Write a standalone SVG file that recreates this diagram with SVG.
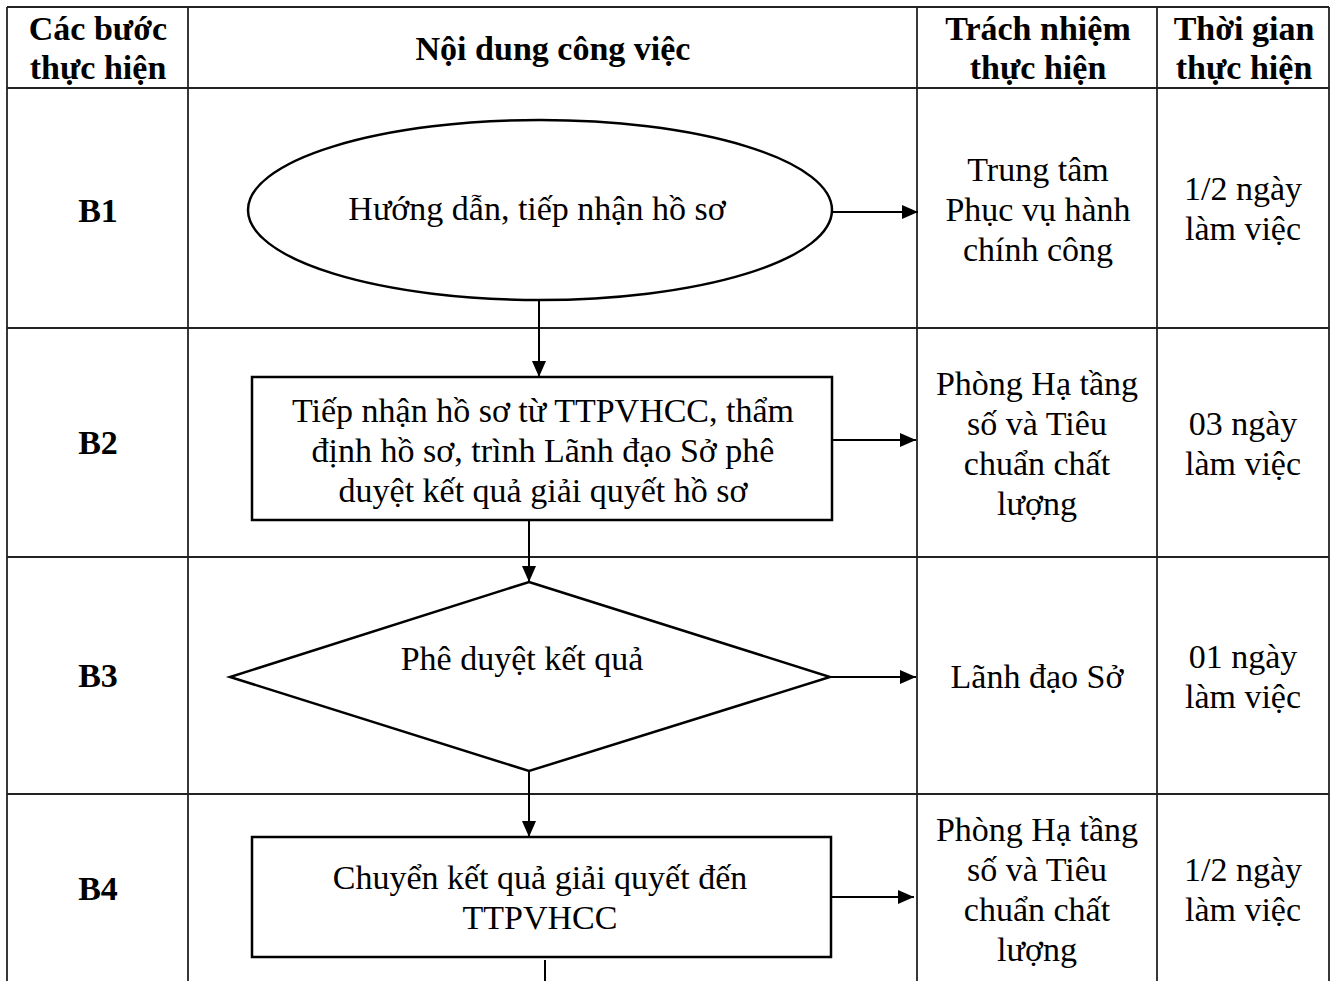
<svg xmlns="http://www.w3.org/2000/svg" width="1336" height="981" viewBox="0 0 1336 981">
  <style>
    .grid { stroke: #222; stroke-width: 1.8; fill: none; }
    .shape { stroke: #000; stroke-width: 2.5; fill: #fff; }
    .flow { stroke: #000; stroke-width: 2; fill: none; }
    text { font-family: "Liberation Serif", "Times New Roman", serif; font-size: 34px; fill: #000; text-anchor: middle; }
    .hd { font-weight: bold; }
  </style>
  <defs>
    <marker id="arrow" viewBox="0 0 16 14" refX="16" refY="7" markerWidth="16" markerHeight="14" markerUnits="userSpaceOnUse" orient="auto">
      <path d="M0,0 L16,7 L0,14 Z" fill="#000"/>
    </marker>
  </defs>
  <rect width="1336" height="981" fill="#fff"/>

  <!-- table grid -->
  <g id="table">
    <line class="grid" x1="7" y1="7" x2="1329" y2="7"/>
    <line class="grid" x1="7" y1="88" x2="1329" y2="88"/>
    <line class="grid" x1="7" y1="328" x2="1329" y2="328"/>
    <line class="grid" x1="7" y1="557" x2="1329" y2="557"/>
    <line class="grid" x1="7" y1="794" x2="1329" y2="794"/>
    <line class="grid" x1="7" y1="7" x2="7" y2="981"/>
    <line class="grid" x1="188" y1="7" x2="188" y2="981"/>
    <line class="grid" x1="917" y1="7" x2="917" y2="981"/>
    <line class="grid" x1="1157" y1="7" x2="1157" y2="981"/>
    <line class="grid" x1="1329" y1="7" x2="1329" y2="981"/>
  </g>

  <!-- header -->
  <g id="header">
    <text class="hd" x="98" y="40">Các bước</text>
    <text class="hd" x="98" y="79">thực hiện</text>
    <text class="hd" x="553" y="60">Nội dung công việc</text>
    <text class="hd" x="1038" y="40">Trách nhiệm</text>
    <text class="hd" x="1038" y="79">thực hiện</text>
    <text class="hd" x="1244" y="40">Thời gian</text>
    <text class="hd" x="1244" y="79">thực hiện</text>
  </g>

  <!-- step labels -->
  <g id="steps">
    <text class="hd" x="98" y="222">B1</text>
    <text class="hd" x="98" y="454">B2</text>
    <text class="hd" x="98" y="687">B3</text>
    <text class="hd" x="98" y="900">B4</text>
  </g>

  <!-- connectors -->
  <g id="connectors">
    <line class="flow" x1="832" y1="212" x2="918" y2="212" marker-end="url(#arrow)"/>
    <line class="flow" x1="539" y1="300" x2="539" y2="377" marker-end="url(#arrow)"/>
    <line class="flow" x1="832" y1="440" x2="916" y2="440" marker-end="url(#arrow)"/>
    <line class="flow" x1="529" y1="520" x2="529" y2="582" marker-end="url(#arrow)"/>
    <line class="flow" x1="830" y1="677" x2="916" y2="677" marker-end="url(#arrow)"/>
    <line class="flow" x1="529" y1="771" x2="529" y2="837" marker-end="url(#arrow)"/>
    <line class="flow" x1="831" y1="897" x2="914" y2="897" marker-end="url(#arrow)"/>
    <line class="flow" x1="545" y1="960" x2="545" y2="981"/>
  </g>

  <!-- B1 -->
  <g id="node-b1">
    <ellipse class="shape" cx="540" cy="210" rx="292" ry="90"/>
    <text x="537" y="220">Hướng dẫn, tiếp nhận hồ sơ</text>
  </g>
  <g id="resp-b1">
    <text x="1038" y="181">Trung tâm</text>
    <text x="1038" y="221">Phục vụ hành</text>
    <text x="1038" y="261">chính công</text>
  </g>
  <g id="time-b1">
    <text x="1243" y="200">1/2 ngày</text>
    <text x="1243" y="240">làm việc</text>
  </g>

  <!-- B2 -->
  <g id="node-b2">
    <rect class="shape" x="252" y="377" width="580" height="143"/>
    <text x="543" y="422">Tiếp nhận hồ sơ từ TTPVHCC, thẩm</text>
    <text x="543" y="462">định hồ sơ, trình Lãnh đạo Sở phê</text>
    <text x="543" y="502">duyệt kết quả giải quyết hồ sơ</text>
  </g>
  <g id="resp-b2">
    <text x="1037" y="395">Phòng Hạ tầng</text>
    <text x="1037" y="435">số và Tiêu</text>
    <text x="1037" y="475">chuẩn chất</text>
    <text x="1037" y="515">lượng</text>
  </g>
  <g id="time-b2">
    <text x="1243" y="435">03 ngày</text>
    <text x="1243" y="475">làm việc</text>
  </g>

  <!-- B3 -->
  <g id="node-b3">
    <polygon class="shape" points="529,582 830,677 529,771 230,677"/>
    <text x="522" y="670">Phê duyệt kết quả</text>
  </g>
  <g id="resp-b3">
    <text x="1037" y="688">Lãnh đạo Sở</text>
  </g>
  <g id="time-b3">
    <text x="1243" y="668">01 ngày</text>
    <text x="1243" y="708">làm việc</text>
  </g>

  <!-- B4 -->
  <g id="node-b4">
    <rect class="shape" x="252" y="837" width="579" height="120"/>
    <text x="540" y="889">Chuyển kết quả giải quyết đến</text>
    <text x="540" y="929">TTPVHCC</text>
  </g>
  <g id="resp-b4">
    <text x="1037" y="841">Phòng Hạ tầng</text>
    <text x="1037" y="881">số và Tiêu</text>
    <text x="1037" y="921">chuẩn chất</text>
    <text x="1037" y="961">lượng</text>
  </g>
  <g id="time-b4">
    <text x="1243" y="881">1/2 ngày</text>
    <text x="1243" y="921">làm việc</text>
  </g>
</svg>
